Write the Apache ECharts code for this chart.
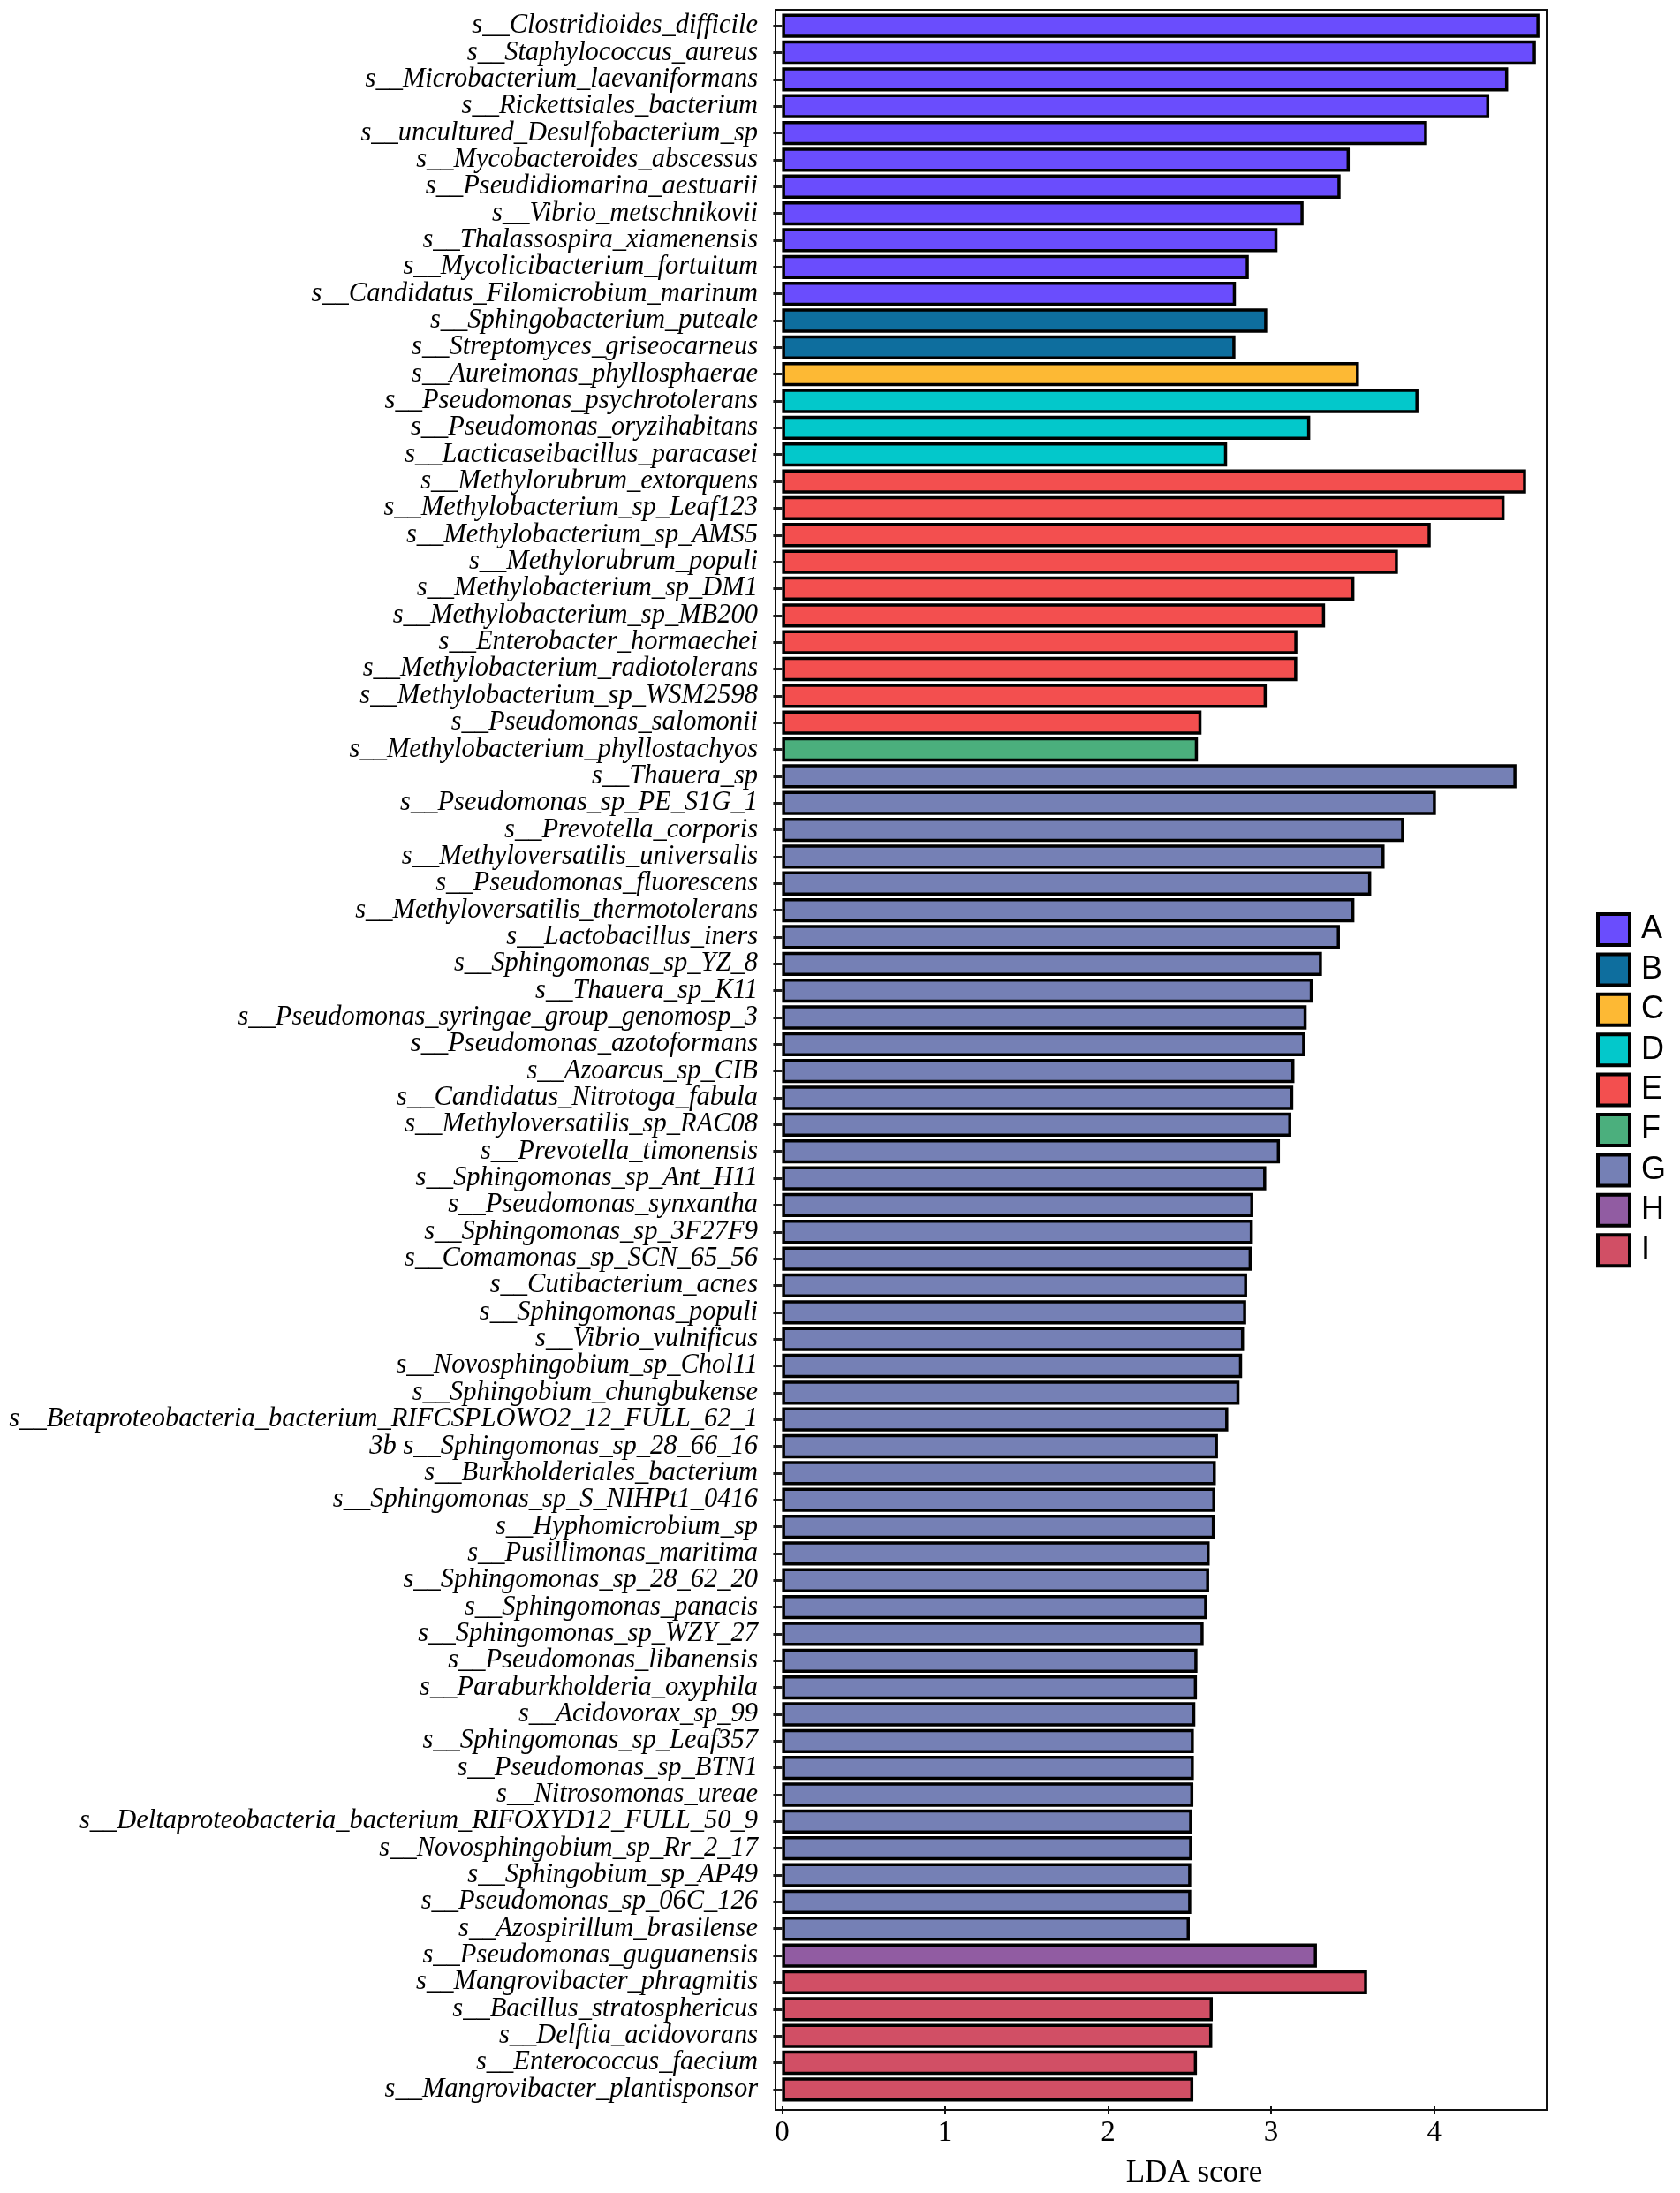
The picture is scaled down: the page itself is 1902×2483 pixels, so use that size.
<!DOCTYPE html>
<html>
<head>
<meta charset="utf-8">
<script src="https://cdn.jsdelivr.net/npm/echarts@6/dist/echarts.min.js"></script>
<style>
html,body{margin:0;padding:0;background:#fff;}
#chart{width:1902px;height:2483px;}
</style>
</head>
<body>
<div id="chart"></div>
<script>
const categories = [
"s__Clostridioides_difficile",
"s__Staphylococcus_aureus",
"s__Microbacterium_laevaniformans",
"s__Rickettsiales_bacterium",
"s__uncultured_Desulfobacterium_sp",
"s__Mycobacteroides_abscessus",
"s__Pseudidiomarina_aestuarii",
"s__Vibrio_metschnikovii",
"s__Thalassospira_xiamenensis",
"s__Mycolicibacterium_fortuitum",
"s__Candidatus_Filomicrobium_marinum",
"s__Sphingobacterium_puteale",
"s__Streptomyces_griseocarneus",
"s__Aureimonas_phyllosphaerae",
"s__Pseudomonas_psychrotolerans",
"s__Pseudomonas_oryzihabitans",
"s__Lacticaseibacillus_paracasei",
"s__Methylorubrum_extorquens",
"s__Methylobacterium_sp_Leaf123",
"s__Methylobacterium_sp_AMS5",
"s__Methylorubrum_populi",
"s__Methylobacterium_sp_DM1",
"s__Methylobacterium_sp_MB200",
"s__Enterobacter_hormaechei",
"s__Methylobacterium_radiotolerans",
"s__Methylobacterium_sp_WSM2598",
"s__Pseudomonas_salomonii",
"s__Methylobacterium_phyllostachyos",
"s__Thauera_sp",
"s__Pseudomonas_sp_PE_S1G_1",
"s__Prevotella_corporis",
"s__Methyloversatilis_universalis",
"s__Pseudomonas_fluorescens",
"s__Methyloversatilis_thermotolerans",
"s__Lactobacillus_iners",
"s__Sphingomonas_sp_YZ_8",
"s__Thauera_sp_K11",
"s__Pseudomonas_syringae_group_genomosp_3",
"s__Pseudomonas_azotoformans",
"s__Azoarcus_sp_CIB",
"s__Candidatus_Nitrotoga_fabula",
"s__Methyloversatilis_sp_RAC08",
"s__Prevotella_timonensis",
"s__Sphingomonas_sp_Ant_H11",
"s__Pseudomonas_synxantha",
"s__Sphingomonas_sp_3F27F9",
"s__Comamonas_sp_SCN_65_56",
"s__Cutibacterium_acnes",
"s__Sphingomonas_populi",
"s__Vibrio_vulnificus",
"s__Novosphingobium_sp_Chol11",
"s__Sphingobium_chungbukense",
"s__Betaproteobacteria_bacterium_RIFCSPLOWO2_12_FULL_62_1",
"3b s__Sphingomonas_sp_28_66_16",
"s__Burkholderiales_bacterium",
"s__Sphingomonas_sp_S_NIHPt1_0416",
"s__Hyphomicrobium_sp",
"s__Pusillimonas_maritima",
"s__Sphingomonas_sp_28_62_20",
"s__Sphingomonas_panacis",
"s__Sphingomonas_sp_WZY_27",
"s__Pseudomonas_libanensis",
"s__Paraburkholderia_oxyphila",
"s__Acidovorax_sp_99",
"s__Sphingomonas_sp_Leaf357",
"s__Pseudomonas_sp_BTN1",
"s__Nitrosomonas_ureae",
"s__Deltaproteobacteria_bacterium_RIFOXYD12_FULL_50_9",
"s__Novosphingobium_sp_Rr_2_17",
"s__Sphingobium_sp_AP49",
"s__Pseudomonas_sp_06C_126",
"s__Azospirillum_brasilense",
"s__Pseudomonas_guguanensis",
"s__Mangrovibacter_phragmitis",
"s__Bacillus_stratosphericus",
"s__Delftia_acidovorans",
"s__Enterococcus_faecium",
"s__Mangrovibacter_plantisponsor"
];

const ldaScores = [
4.646, 4.624, 4.454, 4.338, 3.957, 3.482, 3.426, 3.199, 3.039, 2.863, 2.784,
2.976, 2.781,
3.539,
3.904, 3.240, 2.730,
4.564, 4.432, 3.979, 3.778, 3.511, 3.331, 3.161, 3.160, 2.973, 2.573,
2.551,
4.505, 4.011, 3.816, 3.696, 3.614, 3.511, 3.422, 3.312, 3.256, 3.218, 3.209,
3.143, 3.136, 3.124, 3.054, 2.970, 2.891, 2.888, 2.881, 2.853, 2.847, 2.834,
2.822, 2.806, 2.737, 2.674, 2.661, 2.658, 2.655, 2.623, 2.620, 2.608, 2.586,
2.548, 2.545, 2.535, 2.526, 2.526, 2.523, 2.516, 2.516, 2.510, 2.510, 2.501,
3.281,
3.589, 2.642, 2.639, 2.545, 2.523
];

const groupOf = [
"A","A","A","A","A","A","A","A","A","A","A",
"B","B",
"C",
"D","D","D",
"E","E","E","E","E","E","E","E","E","E",
"F",
"G","G","G","G","G","G","G","G","G","G","G",
"G","G","G","G","G","G","G","G","G","G","G",
"G","G","G","G","G","G","G","G","G","G","G",
"G","G","G","G","G","G","G","G","G","G","G",
"H",
"I","I","I","I","I"
];

const groupNames = ["A","B","C","D","E","F","G","H","I"];
const groupColors = ["#6A4DFD","#0E6E9E","#FDB934","#03C8CB","#F34F4F","#4BAF7D","#7580B5","#915CA2","#D14F65"];
const xTicks = [0, 1, 2, 3, 4];

const series = groupNames.map((g, gi) => ({
  name: g,
  type: 'bar',
  xAxisIndex: 0,
  yAxisIndex: 0,
  barWidth: '90%',
  barGap: '-100%',
  itemStyle: { color: groupColors[gi], borderColor: '#000', borderWidth: 3.5 },
  data: categories.map((c, i) => groupOf[i] === g ? ldaScores[i] : '-')
}));

const chart = echarts.init(document.getElementById('chart'), null, { renderer: 'canvas' });
chart.setOption({
  animation: false,
  backgroundColor: '#fff',
  grid: [
    { left: 878, right: 151, top: 14, bottom: 97, show: false },
    { left: 878, right: 151, top: 11, bottom: 94, show: true, borderColor: '#111', borderWidth: 2, backgroundColor: 'transparent', z: 5 }
  ],
  legend: {
    data: groupNames,
    orient: 'vertical',
    left: 1802,
    top: 1028,
    itemWidth: 36,
    itemHeight: 35,
    itemGap: 6.4,
    icon: 'rect',
    itemStyle: { borderColor: '#000', borderWidth: 4 },
    textStyle: { fontFamily: 'Liberation Sans', fontSize: 36, color: '#000', padding: [0, 0, 0, 8] }
  },
  xAxis: [
    {
      gridIndex: 0,
      type: 'value',
      min: -0.04,
      max: 4.69,
      offset: 3,
      name: 'LDA score',
      nameLocation: 'middle',
      nameGap: 59,
      nameTextStyle: { fontFamily: 'Liberation Serif', fontSize: 35, color: '#000', padding: [0, 0, 0, 75] },
      axisLine: { show: false },
      axisTick: { show: true, length: 10, lineStyle: { color: '#111', width: 2 }, customValues: xTicks },
      axisLabel: { fontFamily: 'Liberation Serif', fontSize: 33, color: '#000', margin: 15, customValues: xTicks },
      splitLine: { show: false }
    },
    { gridIndex: 1, type: 'value', min: 0, max: 1, show: false, splitLine: { show: false } }
  ],
  yAxis: [
    {
      gridIndex: 0,
      type: 'category',
      data: categories,
      inverse: true,
      axisLine: { show: false },
      axisTick: { show: true, alignWithLabel: true, length: 10, lineStyle: { color: '#222', width: 3 } },
      axisLabel: {
        interval: 0,
        fontFamily: 'Liberation Serif',
        fontStyle: 'italic',
        fontSize: 30.5,
        color: '#000',
        margin: 20
      },
      splitLine: { show: false }
    },
    { gridIndex: 1, type: 'value', min: 0, max: 1, show: false, splitLine: { show: false } }
  ],
  series: series
});
</script>
</body>
</html>
